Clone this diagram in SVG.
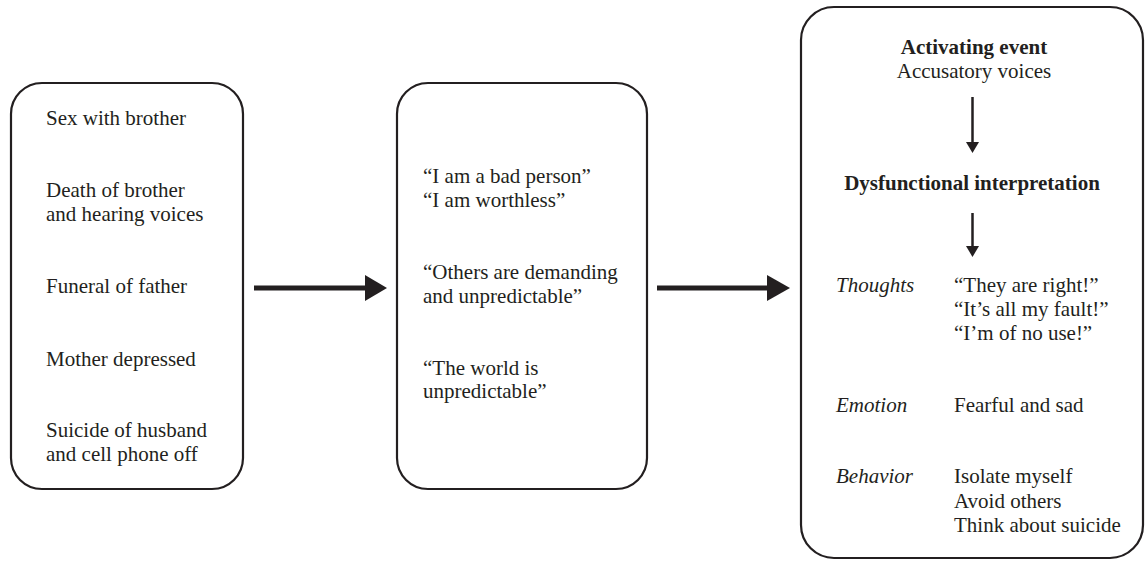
<svg xmlns="http://www.w3.org/2000/svg" width="1146" height="562" viewBox="0 0 1146 562">
<style>
.box{fill:#fff;stroke:#231f20;stroke-width:2.2}
.t{font-family:"Liberation Serif","Times New Roman",serif;font-size:21px;fill:#231f20}
.b{font-weight:bold}
.i{font-style:italic}
.c{text-anchor:middle}
.thick{stroke:#231f20;stroke-width:5;fill:none}
.thin{stroke:#231f20;stroke-width:2.5;fill:none}
.head{fill:#231f20}
</style>
<rect width="1146" height="562" fill="#fff"/>
<g id="node-events">
<rect class="box" x="11" y="83" width="232" height="406" rx="31" ry="31"/>
<text class="t" x="46" y="125">Sex with brother</text>
<text class="t" x="46" y="197">Death of brother</text>
<text class="t" x="46" y="221">and hearing voices</text>
<text class="t" x="46" y="293">Funeral of father</text>
<text class="t" x="46" y="366">Mother depressed</text>
<text class="t" x="46" y="437">Suicide of husband</text>
<text class="t" x="46" y="461">and cell phone off</text>
</g>
<g id="node-beliefs">
<rect class="box" x="397" y="83" width="250" height="406" rx="31" ry="31"/>
<text class="t" x="423" y="183">“I am a bad person”</text>
<text class="t" x="423" y="207">“I am worthless”</text>
<text class="t" x="423" y="279">“Others are demanding</text>
<text class="t" x="423" y="303">and unpredictable”</text>
<text class="t" x="423" y="375">“The world is</text>
<text class="t" x="423" y="398">unpredictable”</text>
</g>
<g id="node-abc">
<rect class="box" x="801" y="7" width="342" height="551" rx="33" ry="33"/>
<text class="t b c" x="974" y="54">Activating event</text>
<text class="t c" x="974" y="78">Accusatory voices</text>
<text class="t b c" x="972" y="190">Dysfunctional interpretation</text>
<text class="t i" x="836" y="292">Thoughts</text>
<text class="t" x="954" y="292">“They are right!”</text>
<text class="t" x="954" y="316">“It’s all my fault!”</text>
<text class="t" x="954" y="340">“I’m of no use!”</text>
<text class="t i" x="836" y="412">Emotion</text>
<text class="t" x="954" y="412">Fearful and sad</text>
<text class="t i" x="836" y="483">Behavior</text>
<text class="t" x="954" y="483">Isolate myself</text>
<text class="t" x="954" y="508">Avoid others</text>
<text class="t" x="954" y="532">Think about suicide</text>
</g>
<g id="connectors">
<line class="thick" x1="254" y1="288" x2="367" y2="288"/>
<polygon class="head" points="365,275 387,288 365,301"/>
<line class="thick" x1="657" y1="288" x2="769" y2="288"/>
<polygon class="head" points="767,275 790,288 767,301"/>
<line class="thin" x1="972.5" y1="97" x2="972.5" y2="143"/>
<polygon class="head" points="966,142 979,142 972.5,153"/>
<line class="thin" x1="972.5" y1="213" x2="972.5" y2="247"/>
<polygon class="head" points="966,246 979,246 972.5,257"/>
</g>
</svg>
